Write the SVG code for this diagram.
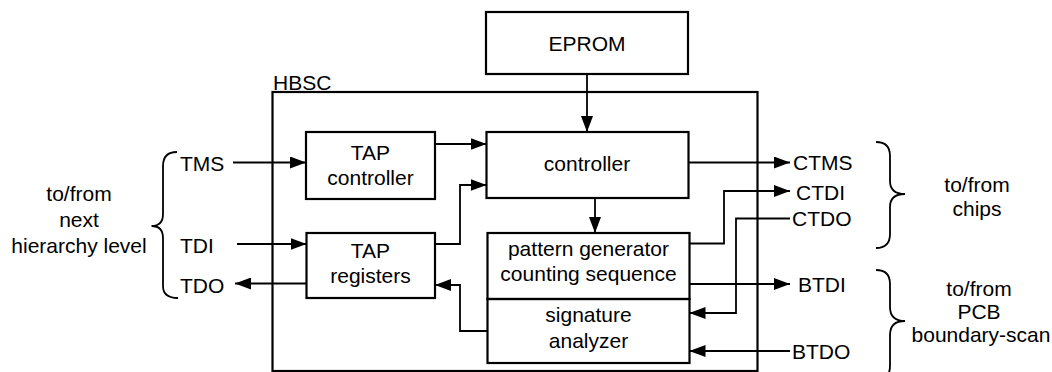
<svg xmlns="http://www.w3.org/2000/svg" width="1052" height="372" viewBox="0 0 1052 372">
<defs>
<marker id="ah" markerUnits="userSpaceOnUse" markerWidth="16" markerHeight="12" refX="16" refY="6" orient="auto">
<path d="M0,0 L16,6 L0,12 z" fill="#000"/>
</marker>
<style>
text{font-family:"Liberation Sans",Arial,sans-serif;font-size:21px;fill:#000}
.m{text-anchor:middle}
.box{fill:none;stroke:#000;stroke-width:2.2}
.c{fill:none;stroke:#000;stroke-width:1.8}
.a{marker-end:url(#ah)}
.br{fill:none;stroke:#000;stroke-width:1.8}
</style>
</defs>
<rect width="1052" height="372" fill="#fff"/>

<g id="hbsc">
<rect class="box" x="272.5" y="92" width="485" height="279" stroke-width="2.6"/>
<text x="273" y="90">HBSC</text>
</g>
<g id="eprom">
<rect class="box" x="486" y="12" width="202" height="62"/>
<text class="m" x="587" y="51">EPROM</text>
</g>
<g id="tapctrl">
<rect class="box" x="306" y="132" width="129" height="67"/>
<text class="m" x="370.5" y="160">TAP</text>
<text class="m" x="370.5" y="185">controller</text>
</g>
<g id="tapreg">
<rect class="box" x="306.5" y="233" width="128.5" height="65"/>
<text class="m" x="370.5" y="258">TAP</text>
<text class="m" x="370.5" y="283">registers</text>
</g>
<g id="controller">
<rect class="box" x="486.5" y="132" width="202" height="66"/>
<text class="m" x="587" y="171">controller</text>
</g>
<g id="patgen">
<rect class="box" x="487.5" y="233" width="202" height="66"/>
<text class="m" x="588.5" y="256">pattern generator</text>
<text class="m" x="588.5" y="281">counting sequence</text>
</g>
<g id="sigan">
<rect class="box" x="487.5" y="299" width="202" height="64"/>
<text class="m" x="588.5" y="322">signature</text>
<text class="m" x="588.5" y="348">analyzer</text>
</g>

<g id="labels">
<text x="180" y="171">TMS</text>
<text x="180" y="253">TDI</text>
<text x="180" y="293">TDO</text>
<text x="793" y="170">CTMS</text>
<text x="796" y="200">CTDI</text>
<text x="792" y="226">CTDO</text>
<text x="798" y="292">BTDI</text>
<text x="792" y="359">BTDO</text>
<text class="m" x="79" y="201">to/from</text>
<text class="m" x="79" y="227">next</text>
<text class="m" x="79" y="253">hierarchy level</text>
<text class="m" x="977" y="192">to/from</text>
<text class="m" x="977" y="216">chips</text>
<text class="m" x="979" y="296">to/from</text>
<text class="m" x="979" y="319">PCB</text>
<text class="m" x="981" y="342">boundary-scan</text>
</g>

<g id="braces">
<path class="br" d="M177,152 Q163,152 163,166 L163,214 Q163,226 151.5,226 Q163,226 163,238 L163,286 Q163,298 178,298"/>
<path class="br" d="M876,142 Q890,142 890,156 L890,181 Q890,194 905,194 Q890,194 890,207 L890,234 Q890,248 876,248"/>
<path class="br" d="M876,270 Q890,270 890,284 L890,307 Q890,321 905,321 Q890,321 890,335 L890,366 Q890,380 876,380"/>
</g>

<g id="connectors">
<path class="c a" d="M233,162.5 H306"/>
<path class="c a" d="M237,244 H306.5"/>
<path class="c a" d="M306.5,283.5 H235"/>
<path class="c a" d="M435,144 H486.5"/>
<path class="c a" d="M435,244 H460 V185 H486.5"/>
<path class="c a" d="M587,74 V132"/>
<path class="c a" d="M595,198 V233"/>
<path class="c a" d="M688.5,162.5 H790"/>
<path class="c a" d="M689.5,243.5 H724 V191 H790"/>
<path class="c a" d="M790,218.5 H736 V313 H689.5"/>
<path class="c a" d="M689.5,284 H790"/>
<path class="c a" d="M790,351 H689.5"/>
<path class="c a" d="M487.5,331 H460 V285 H435"/>
</g>
</svg>
